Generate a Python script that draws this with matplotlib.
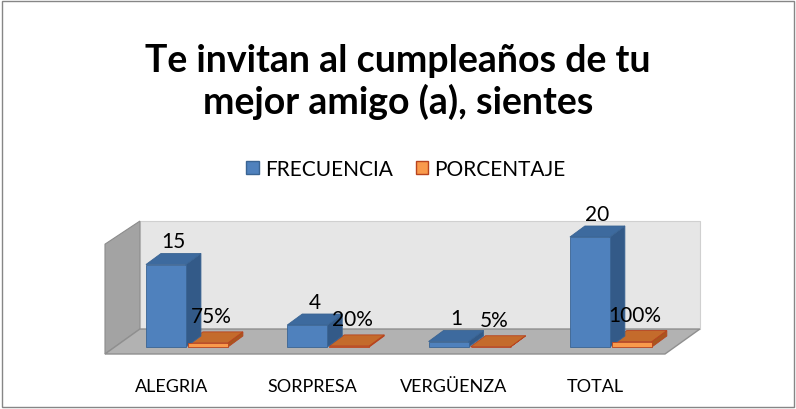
import matplotlib.pyplot as plt
from matplotlib.patches import Polygon, Rectangle, Patch

categories = ["ALEGRIA", "SORPRESA", "VERGÜENZA", "TOTAL"]
frecuencia = [15, 4, 1, 20]
porcentaje = [0.75, 0.20, 0.05, 1.00]
pct_labels = ["75%", "20%", "5%", "100%"]
title = "Te invitan al cumpleaños de tu\nmejor amigo (a), sientes"

FONT = "Lato"
BLUE = ("#4f81bd", "#3d6a9e", "#335a88", "#3a6493")      # front, top, side, edge
ORANGE = ("#f99a4c", "#c46b2c", "#a8561f", "#b8431e")

fig = plt.figure(figsize=(7.96, 4.10), dpi=100)
ax = fig.add_axes([0, 0, 1, 1])
ax.set_xlim(-1.323, 4.310)
ax.set_ylim(-11.27, 63.27)
ax.axis("off")

# depth offset of the 3D faces (data units)
dx, dy = 0.106, 2.0
width = 0.283

# walls and floor
ax.add_patch(Polygon([(-0.333, 3.27), (3.63, 3.27), (3.63, 22.9), (-0.333, 22.9)],
                     closed=True, fc="#e6e6e6", ec="#d0d0d0", lw=0.8, zorder=1))
ax.add_patch(Polygon([(-0.58, -1.27), (-0.58, 18.7), (-0.333, 22.9), (-0.333, 3.27)],
                     closed=True, fc="#a3a3a3", ec="#8c8c8c", lw=0.8, zorder=1))
ax.add_patch(Polygon([(-0.58, -1.27), (3.383, -1.27), (3.63, 3.27), (-0.333, 3.27)],
                     closed=True, fc="#b2b2b2", ec="#8f8f8f", lw=1.0, zorder=1))


def bar3d(x0, h, colors):
    front, top, side, edge = colors
    x1 = x0 + width
    ax.add_patch(Polygon([(x1, 0), (x1 + dx, dy), (x1 + dx, h + dy), (x1, h)],
                         closed=True, fc=side, ec=edge, lw=0.6, zorder=3))
    ax.add_patch(Polygon([(x0, h), (x1, h), (x1 + dx, h + dy), (x0 + dx, h + dy)],
                         closed=True, fc=top, ec=edge, lw=0.6, zorder=3))
    ax.add_patch(Rectangle((x0, 0), width, h, fc=front, ec=edge, lw=0.6, zorder=4))


for i, (f, p) in enumerate(zip(frecuencia, porcentaje)):
    xb = i - width - 0.007
    xo = i + 0.007
    bar3d(xo, p, ORANGE)
    bar3d(xb, f, BLUE)
    ax.text(xb + width / 2 + dx / 2, f + dy + 2.2, str(f), ha="center", va="center",
            fontsize=15, family=FONT, zorder=5)
    ax.text(xo + width / 2 + dx / 2 - 0.03, p + dy + 2.9, pct_labels[i], ha="center",
            va="center", fontsize=15, family=FONT, zorder=5)
    ax.text(i - 0.11, -7.0, categories[i], ha="center", va="center",
            fontsize=13, family=FONT, zorder=5)

ax.text(0.5, 0.80, title, transform=ax.transAxes, ha="center", va="center",
        fontsize=27, fontweight="bold", family=FONT, linespacing=1.2)

handles = [Patch(fc=BLUE[0], ec=BLUE[3], label="FRECUENCIA"),
           Patch(fc=ORANGE[0], ec=ORANGE[3], label="PORCENTAJE")]
fig.legend(handles=handles, loc="center", bbox_to_anchor=(0.51, 0.585), ncol=2,
           frameon=False, prop={"family": FONT, "size": 15}, handlelength=0.6,
           handleheight=0.6, handletextpad=0.3, columnspacing=1.1)

ax.add_patch(Rectangle((0.003, 0.004), 0.994, 0.992, transform=ax.transAxes,
                       fill=False, ec="#868686", lw=1.0, zorder=6))

fig.savefig("out.png", dpi=100)
